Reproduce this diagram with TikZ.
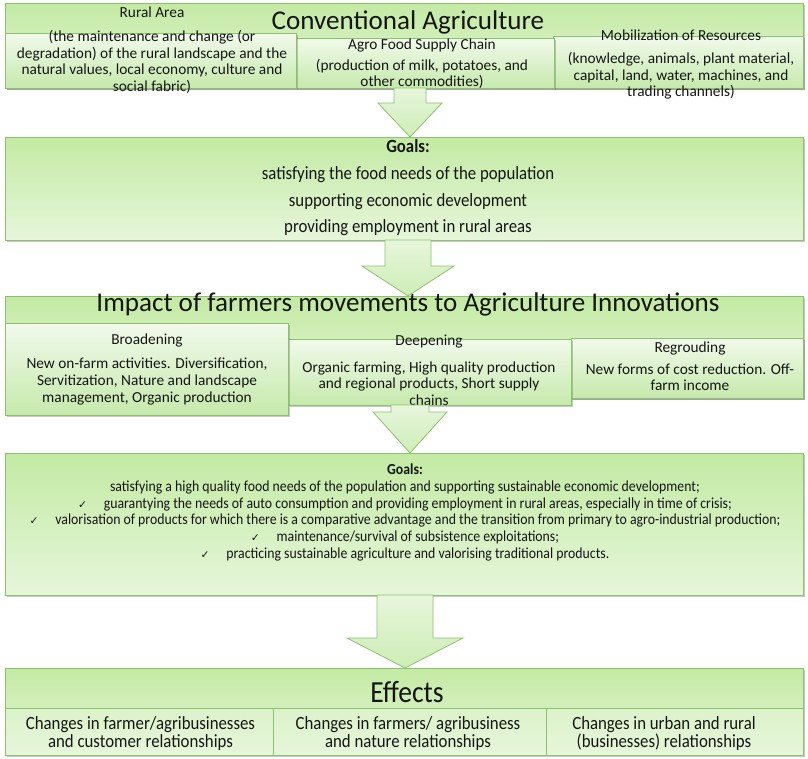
\documentclass[tikz,border=0pt]{standalone}
\usepackage{fontspec}
\setmainfont{Carlito}
\newfontfamily\condfont[FakeStretch=0.9]{Carlito}
\newfontfamily\tickfont{DejaVu Sans}
\usepackage{tikz}
\usetikzlibrary{calc,shadows}
\definecolor{ink}{HTML}{161616}
\definecolor{edge}{HTML}{8CC26C}
\definecolor{bandtop}{HTML}{C3EAA3}
\definecolor{bandbot}{HTML}{E6F6DA}
\definecolor{paneltop}{HTML}{F1FAEB}
\definecolor{panelbot}{HTML}{C6E9AC}
\definecolor{arrowtop}{HTML}{E7F6DC}
\definecolor{arrowbot}{HTML}{CDEDB5}

\newcommand{\tick}{{\tickfont\fontsize{8}{8}\selectfont ✓}\hspace{1.1em}}
% block arrow: from node, to node, x offset, shaft half width, head half width, head length
\newcommand{\blockarrow}[6]{%
  \draw[arrowbody] let \p1=($(#1.south)+(#3,0pt)$), \p2=($(#2.north)+(#3,0pt)$) in
    (\x1-#4,\y1) -- (\x1-#4,\y2+#6) -- (\x1-#5,\y2+#6) -- (\x1,\y2)
    -- (\x1+#5,\y2+#6) -- (\x1+#4,\y2+#6) -- (\x1+#4,\y1) -- cycle;
}

\begin{document}
\begin{tikzpicture}[x=0.75pt, y=-0.75pt,
  band/.style={draw=edge, line width=0.6pt, top color=bandtop, bottom color=bandbot, anchor=north west, inner sep=0pt, outer sep=0pt,
    drop shadow={shadow xshift=1.2pt, shadow yshift=-1.6pt, opacity=0.3, fill=black!70}},
  panel/.style={band, top color=paneltop, bottom color=panelbot},
  cell/.style={draw=edge, line width=0.6pt, top color=bandbot!70!bandtop, bottom color=bandbot, anchor=north west, inner sep=0pt, outer sep=0pt},
  arrowbody/.style={draw=edge, line width=0.6pt, top color=arrowtop, bottom color=arrowbot},
  bigtitle/.style={font=\fontsize{20.3}{24}\selectfont, text=ink, inner sep=0pt},
  txt/.style={font=\fontsize{11.5}{12.4}\selectfont, text=ink, align=center, inner sep=0pt},
  goaltxt/.style={font=\condfont\fontsize{14}{20}\selectfont, text=ink, align=center, inner sep=0pt},
  goalsmall/.style={font=\condfont\fontsize{11.5}{12.6}\selectfont, text=ink, align=center, inner sep=0pt},
  efftxt/.style={font=\condfont\fontsize{14}{13.5}\selectfont, text=ink, align=center, inner sep=0pt}
]
\useasboundingbox (0,0) rectangle (808,758);

% conventional agriculture
\node[band, minimum width=598.5pt, minimum height=63.75pt] (conv) at (5,3) {};
\node[panel, minimum width=187.5pt, minimum height=39pt] (mobil) at (553,36) {};
\node[panel, minimum width=193.5pt, minimum height=37.5pt] (agro) at (296,38) {};
\node[panel, minimum width=218.25pt, minimum height=41.25pt] (rural) at (5,33) {};
\node[bigtitle] (convtitle) at (408,22) {Conventional Agriculture};
\node[txt] (ruralhead) at (152,12) {Rural Area};
\node[txt] (ruraltext) at (152,62) {(the maintenance and change (or\\degradation) of the rural landscape and the\\natural values, local economy, culture and\\social fabric)};
\node[txt] (agrohead) at (422,45) {Agro Food Supply Chain};
\node[txt] (agrotext) at (422,74) {(production of milk, potatoes, and\\other commodities)};
\node[txt] (mobilhead) at (681,35) {Mobilization of Resources};
\node[txt] (mobiltext) at (681,76) {(knowledge, animals, plant material,\\capital, land, water, machines, and\\trading channels)};

% first goals
\node[band, minimum width=598.5pt, minimum height=77.25pt] (goals1) at (5,137) {};
\node[goaltxt] (goals1text) at (408,188) {\textbf{Goals:}\\satisfying the food needs of the population\\supporting economic development\\providing employment in rural areas};

% impact row
\node[band, minimum width=598.5pt, minimum height=76.5pt] (impact) at (5,296) {};
\node[panel, minimum width=174pt, minimum height=45pt] (regr) at (571,338) {};
\node[panel, minimum width=212.25pt, minimum height=49.5pt] (deep) at (288,339) {};
\node[panel, minimum width=212.25pt, minimum height=69pt] (broad) at (5,323) {};
\node[bigtitle] (impacttitle) at (408,304) {Impact of farmers movements to Agriculture Innovations};
\node[txt] (broadhead) at (147,340) {Broadening};
\node[txt] (broadtext) at (147,381.5) {New on-farm activities. Diversification,\\Servitization, Nature and landscape\\management, Organic production};
\node[txt] (deephead) at (429,342) {Deepening};
\node[txt] (deeptext) at (429,383.5) {Organic farming, High quality production\\and regional products, Short supply\\chains};
\node[txt] (regrhead) at (690,348) {Regrouding};
\node[txt] (regrtext) at (690,377) {New forms of cost reduction. Off-\\farm income};

% second goals
\node[band, minimum width=598.5pt, minimum height=106.5pt] (goals2) at (5,453) {};
\node[goalsmall] (goals2text) at (405,512.5) {\textbf{Goals:}\\satisfying a high quality food needs of the population and supporting sustainable economic development;\\\tick guarantying the needs of auto consumption and providing employment in rural areas, especially in time of crisis;\\\tick valorisation of products for which there is a comparative advantage and the transition from primary to agro-industrial production;\\\tick maintenance/survival of subsistence exploitations;\\\tick practicing sustainable agriculture and valorising traditional products.};

% effects
\node[band, minimum width=598.5pt, minimum height=65.25pt] (effects) at (5,668) {};
\foreach \x/\w/\name in {5/201/eff1, 273/204.75/eff2, 546/192.75/eff3}{
  \node[cell, minimum width=\w pt, minimum height=35.25pt] (\name) at (\x,708) {};
}
\node[bigtitle, font=\condfont\fontsize{23}{26}\selectfont] (effectstitle) at (407,692) {Effects};
\node[efftxt] (eff1text) at (140.5,734) {Changes in farmer/agribusinesses\\and customer relationships};
\node[efftxt] (eff2text) at (408,734) {Changes in farmers/ agribusiness\\and nature relationships};
\node[efftxt] (eff3text) at (664,734) {Changes in urban and rural\\(businesses) relationships};

% block arrows
\blockarrow{conv}{goals1}{4.5pt}{12pt}{24pt}{25.5pt}
\blockarrow{goals1}{impact}{3pt}{17.25pt}{34.5pt}{22.5pt}
\blockarrow{deep}{goals2}{-14.625pt}{14.25pt}{27.75pt}{30.75pt}
\blockarrow{goals2}{effects}{0.75pt}{21pt}{43.5pt}{22.5pt}

\end{tikzpicture}
\end{document}
